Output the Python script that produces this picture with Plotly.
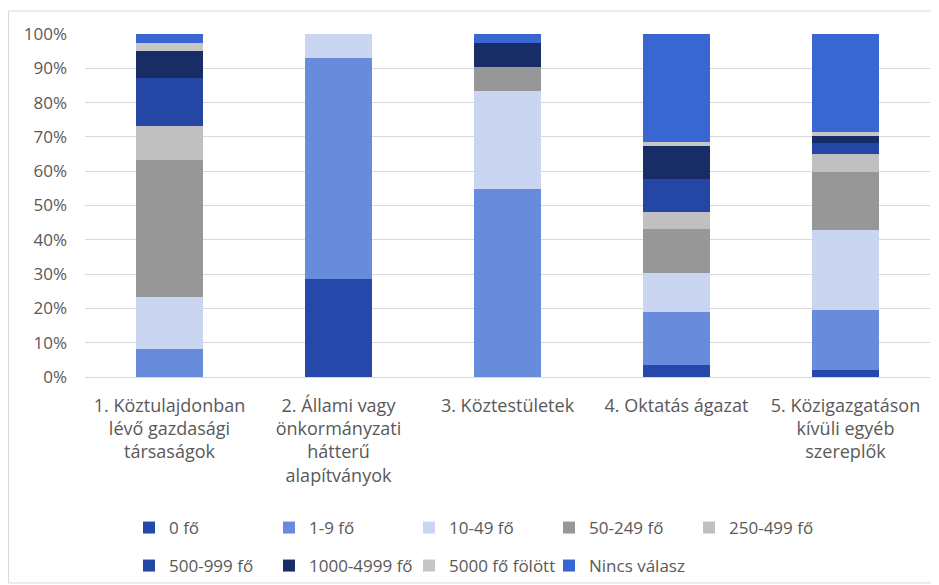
import plotly.graph_objects as go

categories = [
    "1. Köztulajdonban<br>lévő gazdasági<br>társaságok",
    "2. Állami vagy<br>önkormányzati<br>hátterű<br>alapítványok",
    "3. Köztestületek",
    "4. Oktatás ágazat",
    "5. Közigazgatáson<br>kívüli egyéb<br>szereplők",
]

series_names = ["0 fő", "1-9 fő", "10-49 fő", "50-249 fő", "250-499 fő",
                "500-999 fő", "1000-4999 fő", "5000 fő fölött", "Nincs válasz"]

v_0 = [0, 28.6, 0, 3.4, 2.0]
v_1_9 = [8.3, 64.3, 54.7, 15.6, 17.5]
v_10_49 = [14.9, 7.1, 28.7, 11.2, 23.3]
v_50_249 = [40.0, 0, 7.0, 12.9, 17.0]
v_250_499 = [10.0, 0, 0, 4.9, 5.2]
v_500_999 = [13.9, 0, 0, 9.7, 3.1]
v_1000_4999 = [7.8, 0, 7.1, 9.6, 2.2]
v_5000 = [2.6, 0, 0, 1.2, 1.0]
v_nincs = [2.5, 0, 2.5, 31.5, 28.7]

series_values = [v_0, v_1_9, v_10_49, v_50_249, v_250_499,
                 v_500_999, v_1000_4999, v_5000, v_nincs]

colors = ["#2549AB", "#698BDC", "#CAD6F1", "#979797", "#C0C0C0",
          "#2447A6", "#182D66", "#C6C6C6", "#3966D1"]

y_ticks = list(range(0, 101, 10))
y_tick_labels = [f"{v}%" for v in y_ticks]

FONT = "Open Sans"
TXT = "#595959"

fig = go.Figure()
for i, (name, vals, col) in enumerate(zip(series_names, series_values, colors)):
    fig.add_trace(go.Bar(
        x=categories, y=vals, name=name,
        marker=dict(color=col, line=dict(width=0)),
        legend="legend" if i < 5 else "legend2",
    ))

# page body adds an 8px offset; figure sized so it fits the 939x585 window
W, H = 931, 577
fig.update_layout(
    width=W, height=H,
    barmode="stack",
    bargap=0.6,
    plot_bgcolor="white",
    paper_bgcolor="white",
    margin=dict(l=77, r=9, t=26, b=208, autoexpand=False),
    font=dict(family=FONT, size=17, color=TXT),
    legend=dict(
        orientation="h", xref="container", yref="container",
        x=121 / W, y=1 - 502 / H, xanchor="left", yanchor="top",
        entrywidth=95, entrywidthmode="pixels",
        itemwidth=30, traceorder="normal",
        font=dict(family=FONT, size=17, color=TXT),
        bgcolor="rgba(0,0,0,0)",
    ),
    legend2=dict(
        orientation="h", xref="container", yref="container",
        x=121 / W, y=1 - 540 / H, xanchor="left", yanchor="top",
        entrywidth=95, entrywidthmode="pixels",
        itemwidth=30, traceorder="normal",
        font=dict(family=FONT, size=17, color=TXT),
        bgcolor="rgba(0,0,0,0)",
    ),
    showlegend=True,
)
fig.update_yaxes(
    range=[0, 100], tickmode="array", tickvals=y_ticks, ticktext=y_tick_labels,
    showgrid=True, gridcolor="#D9D9D9", gridwidth=1,
    zeroline=False, showline=False, ticks="",
    tickfont=dict(family=FONT, size=17, color=TXT),
    ticklabelstandoff=17, automargin=False,
)
fig.update_xaxes(
    showline=True, linecolor="#D9D9D9", linewidth=1,
    ticks="", tickangle=0, automargin=False,
    tickfont=dict(family=FONT, size=18, color=TXT),
    ticklabelstandoff=12,
)
fig.add_shape(type="rect", xref="paper", yref="paper",
              x0=-76.5 / 845, x1=1 + 30 / 845, y0=-206 / 343, y1=1 + 23 / 343,
              line=dict(color="#D9D9D9", width=1), layer="below")

fig.write_html("out.html")
